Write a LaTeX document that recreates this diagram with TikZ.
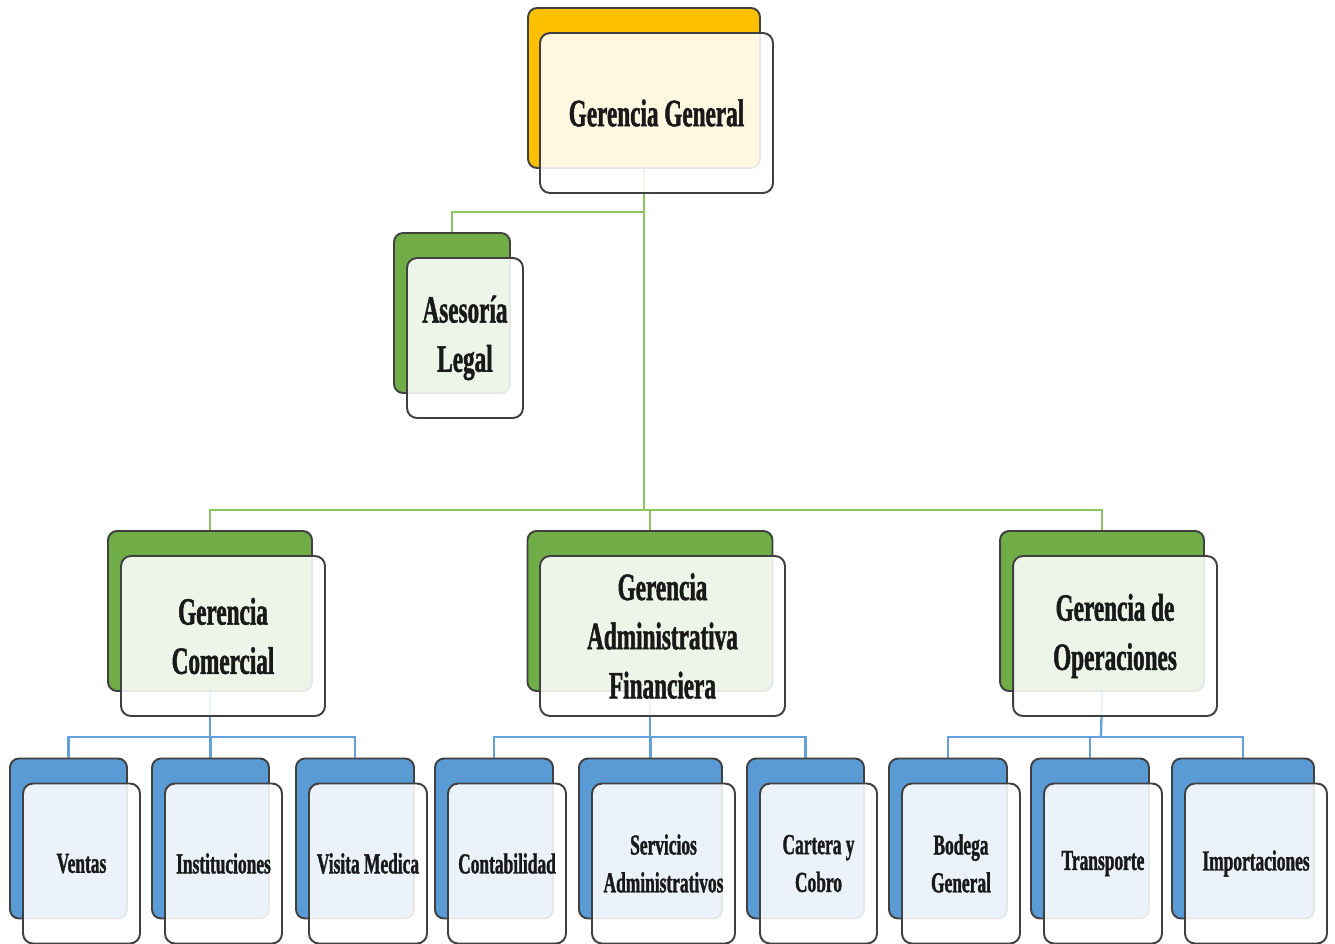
\documentclass[tikz,border=0pt]{standalone}
\usepackage{fontspec}
\newfontfamily\orgfont[FakeStretch=0.6,FakeBold=1.2]{Liberation Serif}
\usepackage{tikz}
\usetikzlibrary{calc}
\pgfdeclarelayer{background}
\pgfsetlayers{background,main}
\definecolor{gold}{RGB}{255,192,0}
\definecolor{leaf}{RGB}{112,173,71}
\definecolor{sky}{RGB}{91,155,213}
\definecolor{gline}{RGB}{140,198,95}
\definecolor{bline}{RGB}{100,160,220}
\tikzset{
  back/.style={draw=black!75, line width=1.1pt, rounded corners=0.18cm,
    minimum height=3.2cm},
  front/.style={draw=black!75, line width=1.1pt, rounded corners=0.2cm,
    fill=white, fill opacity=0.88, text opacity=1, minimum height=3.2cm,
    align=center, font=\orgfont\bfseries\fontsize{22}{28}\selectfont, text=black!90},
  small/.style={font=\orgfont\bfseries\fontsize{16.5}{21.5}\selectfont},
  greenlink/.style={gline, line width=1.3pt},
  bluelink/.style={bline, line width=1.3pt}
}

\begin{document}
\begin{tikzpicture}[x=0.02cm,y=-0.02cm]
    \useasboundingbox (0,0) rectangle (1335,943);
    % top
    \node (gg-b) at (644,88) [back, fill=gold, minimum width=4.64cm] {};
    \node (gg) at (656.5,113) [front, minimum width=4.66cm] {Gerencia General};
    \node (al-b) at (452,313) [back, fill=leaf, minimum width=2.32cm] {};
    \node (al) at (465,338) [front, minimum width=2.32cm] {Asesoría\\Legal};
    % second level
    \node (gc-b) at (210,611) [back, fill=leaf, minimum width=4.08cm] {};
    \node (gc) at (223,636) [front, minimum width=4.08cm] {Gerencia\\Comercial};
    \node (ga-b) at (650,611) [back, fill=leaf, minimum width=4.9cm] {};
    \node (ga) at (662.5,636) [front, minimum width=4.9cm] {Gerencia\\Administrativa\\Financiera};
    \node (go-b) at (1102,611) [back, fill=leaf, minimum width=4.08cm] {};
    \node (go) at (1115,636) [front, minimum width=4.08cm] {Gerencia de\\Operaciones};
    % third level
    \node (ve-b) at (68.5,838.5) [back, fill=sky, minimum width=2.34cm] {};
    \node (ve) at (81.5,863.5) [front, small, minimum width=2.34cm] {Ventas};
    \node (in-b) at (210.5,838.5) [back, fill=sky, minimum width=2.34cm] {};
    \node (in) at (223.5,863.5) [front, small, minimum width=2.34cm] {Instituciones};
    \node (vm-b) at (355,838.5) [back, fill=sky, minimum width=2.36cm] {};
    \node (vm) at (368,863.5) [front, small, minimum width=2.36cm] {Visita Medica};
    \node (co-b) at (494,838.5) [back, fill=sky, minimum width=2.36cm] {};
    \node (co) at (507,863.5) [front, small, minimum width=2.36cm] {Contabilidad};
    \node (sa-b) at (650.5,838.5) [back, fill=sky, minimum width=2.86cm] {};
    \node (sa) at (663.5,863.5) [front, small, minimum width=2.86cm] {Servicios\\Administrativos};
    \node (cc-b) at (805.5,838.5) [back, fill=sky, minimum width=2.34cm] {};
    \node (cc) at (818.5,863.5) [front, small, minimum width=2.34cm] {Cartera y\\Cobro};
    \node (bg-b) at (948,838.5) [back, fill=sky, minimum width=2.36cm] {};
    \node (bg) at (961,863.5) [front, small, minimum width=2.36cm] {Bodega\\General};
    \node (tr-b) at (1090,838.5) [back, fill=sky, minimum width=2.36cm] {};
    \node (tr) at (1103,863.5) [front, small, minimum width=2.36cm] {Transporte};
    \node (im-b) at (1243,838.5) [back, fill=sky, minimum width=2.84cm] {};
    \node (im) at (1256,863.5) [front, small, minimum width=2.84cm] {Importaciones};
    % buses
    \coordinate (legal) at (644,212);
    \coordinate (top) at (644,510);
    \coordinate (left) at (210,737);
    \coordinate (mid) at (650,737);
    \coordinate (right) at (1101,737);
    \begin{pgfonlayer}{background}
    \draw[greenlink] (gg-b.south) -- (top);
    \draw[greenlink] (al-b.north) |- (legal);
    \draw[greenlink] (gc-b.north) |- (top);
    \draw[greenlink] (ga-b.north) |- (top);
    \draw[greenlink] (go-b.north) |- (top);
    \draw[bluelink] (gc-b.south) -- (left);
    \draw[bluelink] (ve-b.north) |- (left);
    \draw[bluelink] (in-b.north) |- (left);
    \draw[bluelink] (vm-b.north) |- (left);
    \draw[bluelink] (ga-b.south) -- (mid);
    \draw[bluelink] (co-b.north) |- (mid);
    \draw[bluelink] (sa-b.north) |- (mid);
    \draw[bluelink] (cc-b.north) |- (mid);
    \draw[bluelink] (go-b.south) -- (right);
    \draw[bluelink] (bg-b.north) |- (right);
    \draw[bluelink] (tr-b.north) |- (right);
    \draw[bluelink] (im-b.north) |- (right);
    \end{pgfonlayer}
  \end{tikzpicture}
\end{document}
